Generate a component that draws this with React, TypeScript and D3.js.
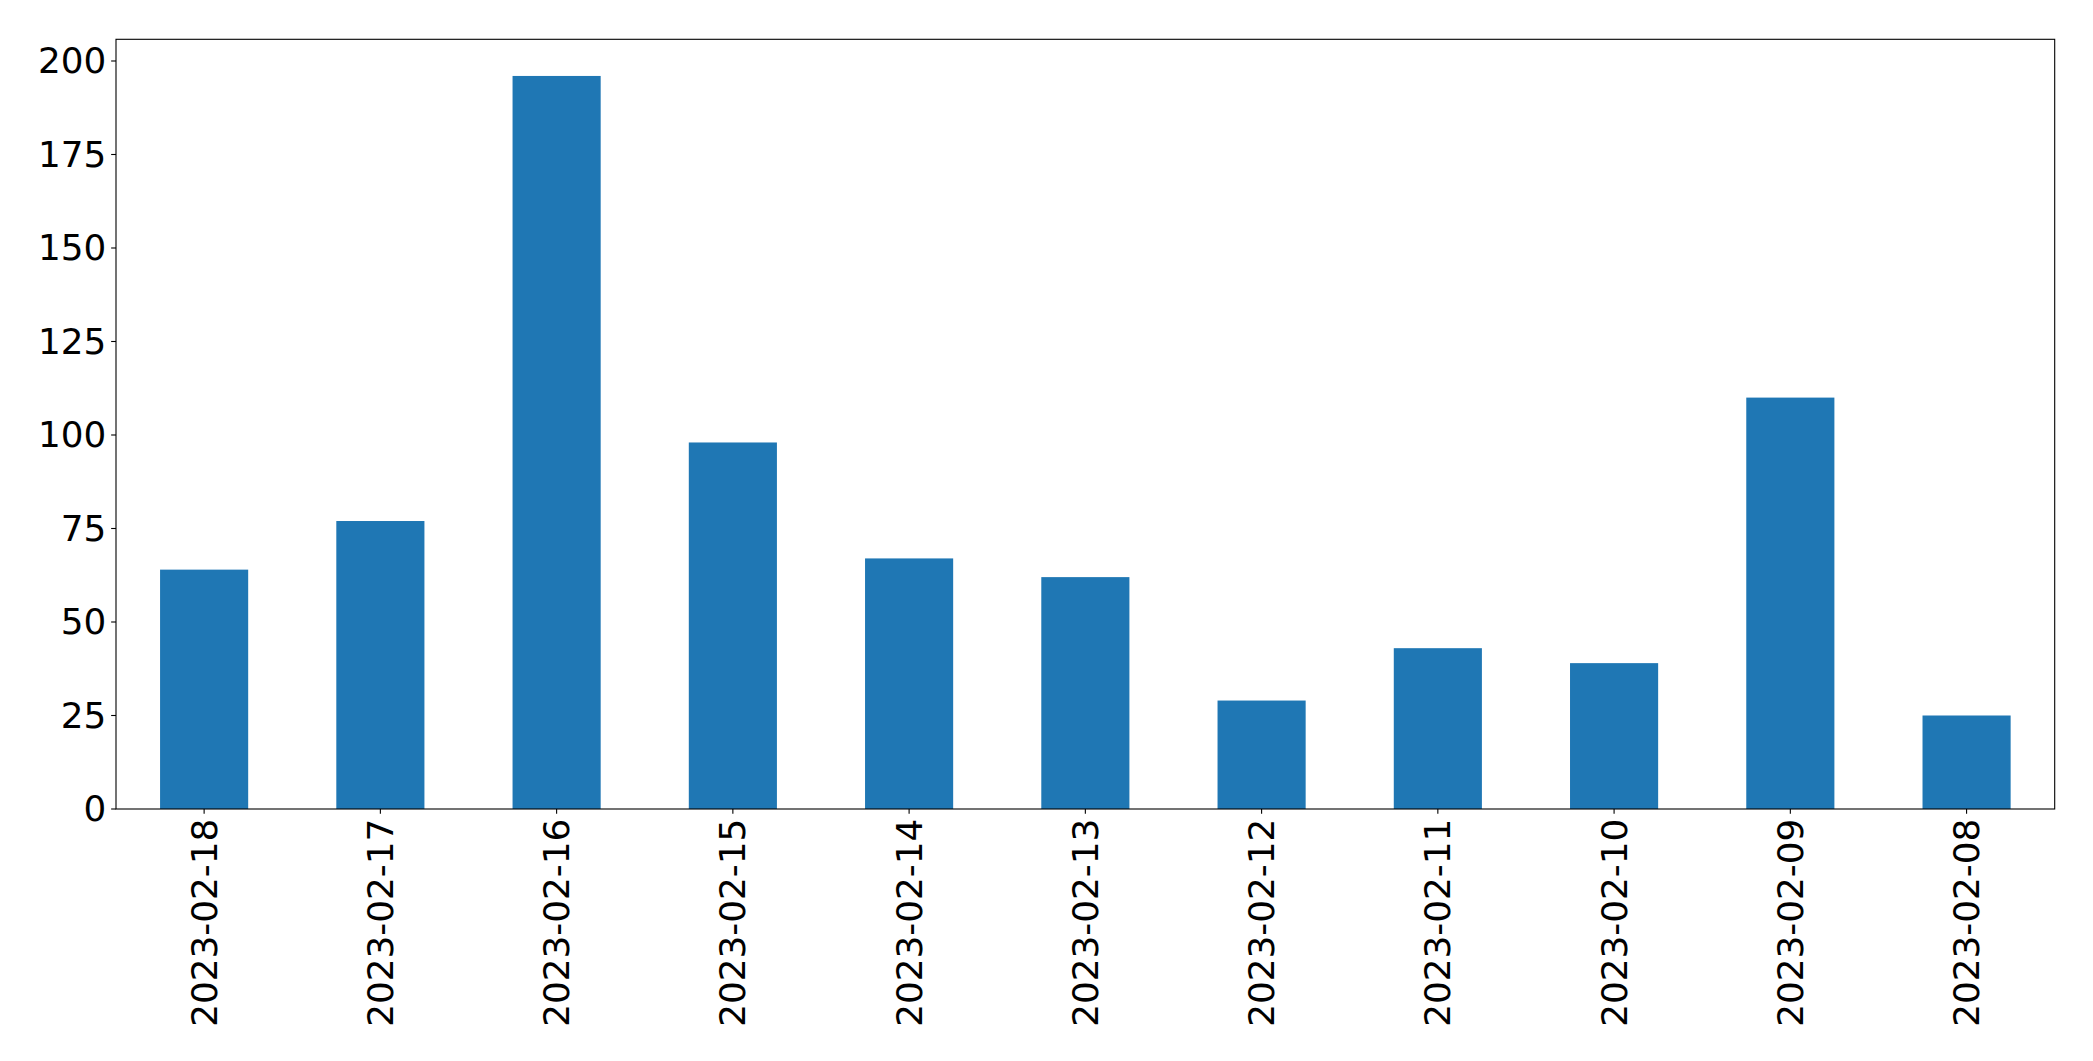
import React, { useRef, useEffect } from 'react';
import * as d3 from 'd3';

const dates = [
  '2023-02-18', '2023-02-17', '2023-02-16', '2023-02-15', '2023-02-14', '2023-02-13',
  '2023-02-12', '2023-02-11', '2023-02-10', '2023-02-09', '2023-02-08',
];
const counts = [64, 77, 196, 98, 67, 62, 29, 43, 39, 110, 25];
const yTicks = [0, 25, 50, 75, 100, 125, 150, 175, 200];

export default function App() {
  const ref = useRef<SVGSVGElement | null>(null);

  useEffect(() => {
    if (!ref.current) return;
    const W = 2093;
    const H = 1061;
    const margin = { top: 39.3, right: W - 2054.7, bottom: H - 809, left: 116 };
    const width = W - margin.left - margin.right;
    const height = H - margin.top - margin.bottom;
    const font = 'DejaVu Sans, sans-serif';
    const fontSize = 35.8;
    const tickLen = 4.86;
    const pad = 4.86;

    const root = d3.select(ref.current);
    root.selectAll('*').remove();
    const svg = root.append('g')
      .attr('transform', `translate(${margin.left}, ${margin.top})`);

    const x = d3.scaleBand<string>()
      .domain(dates)
      .range([0, width])
      .paddingInner(0.5)
      .paddingOuter(0.25);

    const yMax = d3.max(counts) as number;
    const y = d3.scaleLinear()
      .domain([0, yMax * 1.05])
      .range([height, 0]);

    svg.selectAll('rect.bar')
      .data(counts)
      .enter()
      .append('rect')
      .attr('class', 'bar')
      .attr('x', (_, i) => x(dates[i]) as number)
      .attr('y', d => y(d))
      .attr('width', x.bandwidth())
      .attr('height', d => height - y(d))
      .attr('fill', '#1f77b4');

    // frame
    svg.append('rect')
      .attr('x', 0)
      .attr('y', 0)
      .attr('width', width)
      .attr('height', height)
      .attr('fill', 'none')
      .attr('stroke', '#000')
      .attr('stroke-width', 1.1);

    // y axis
    const yAxis = svg.append('g');
    yTicks.forEach(t => {
      yAxis.append('line')
        .attr('x1', -tickLen).attr('x2', 0)
        .attr('y1', y(t)).attr('y2', y(t))
        .attr('stroke', '#000').attr('stroke-width', 1.1);
      yAxis.append('text')
        .attr('x', -tickLen - pad)
        .attr('y', y(t))
        .attr('text-anchor', 'end')
        .attr('dominant-baseline', 'central')
        .attr('font-family', font)
        .attr('font-size', fontSize)
        .attr('fill', '#000')
        .text(t);
    });

    // x axis
    const xAxis = svg.append('g');
    dates.forEach(d => {
      const cx = (x(d) as number) + x.bandwidth() / 2;
      xAxis.append('line')
        .attr('x1', cx).attr('x2', cx)
        .attr('y1', height).attr('y2', height + tickLen)
        .attr('stroke', '#000').attr('stroke-width', 1.1);
      xAxis.append('text')
        .attr('transform', `translate(${cx}, ${height + tickLen + pad}) rotate(-90)`)
        .attr('text-anchor', 'end')
        .attr('dominant-baseline', 'central')
        .attr('font-family', font)
        .attr('font-size', fontSize)
        .attr('fill', '#000')
        .text(d);
    });
  }, []);

  return (
    <svg
      ref={ref}
      width={2093}
      height={1061}
      style={{ position: 'absolute', left: 0, top: 0, background: '#fff' }}
    />
  );
}
